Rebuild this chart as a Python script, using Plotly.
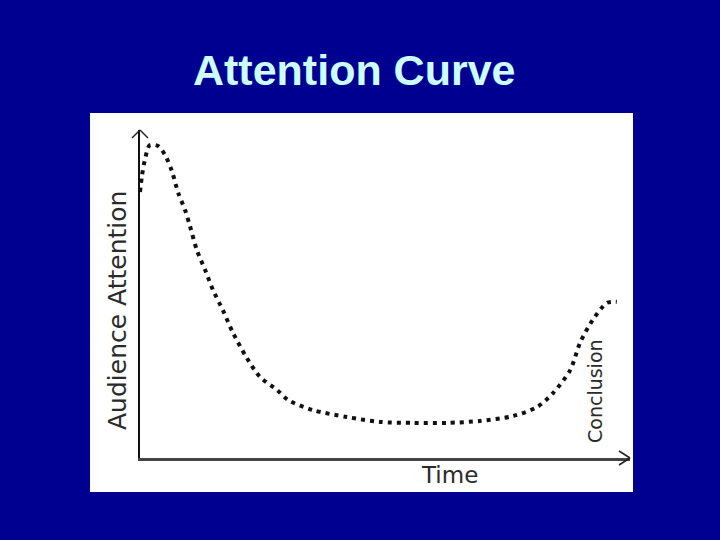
"""ATTENTION CURVE SLIDE"""
import plotly.graph_objects as go

# curve: time (0-100) vs audience attention (0-100)
time = [0, 0.4, 1.0, 2.0, 3.7, 5.1, 6.5, 7.8, 9.2, 10.2, 11.6, 13.3, 14.9, 16.9,
        19.0, 21.8, 24.5, 28.0, 30.2, 35.3, 42.2, 49.0, 55.7, 62.7, 69.4, 76.1,
        81.0, 84.3, 87.8, 89.8, 92.4, 95.3, 97.3]
attention = [81.1, 86.0, 90.9, 95.4, 95.1, 92.4, 87.5, 80.8, 75.6, 70.7, 63.4,
             57.3, 51.2, 45.1, 38.1, 30.5, 24.7, 20.7, 17.7, 14.6, 12.5, 11.0,
             10.7, 10.7, 11.3, 12.8, 15.5, 19.8, 26.8, 35.1, 42.1, 47.3, 47.6]

W, H = 720, 540
BG = "#000090"
INK = "#2a2a2a"


def px(x):
    return x / W


def py(y):
    return 1 - y / H


data = [
    go.Scatter(
        x=time,
        y=attention,
        mode="lines",
        line=dict(color="#111111", width=4, dash="4px,5px", shape="spline",
                  smoothing=0.8),
        hoverinfo="skip",
    )
]

arrow = dict(type="line", xref="paper", yref="paper",
             line=dict(color="#222222", width=1.5))
shapes = [
    # white panel
    dict(type="rect", xref="paper", yref="paper", x0=px(90), x1=px(633),
         y0=py(492), y1=py(113), fillcolor="white", line_width=0, layer="below"),
    # y-axis arrow head
    dict(arrow, x0=px(132), y0=py(138), x1=px(140), y1=py(130)),
    dict(arrow, x0=px(148), y0=py(138), x1=px(140), y1=py(130)),
    # x-axis arrow head
    dict(arrow, x0=px(619), y0=py(451), x1=px(630), y1=py(458)),
    dict(arrow, x0=px(619), y0=py(465), x1=px(630), y1=py(458)),
]

label = dict(xref="paper", yref="paper", showarrow=False,
             xanchor="center", yanchor="middle")
annotations = [
    dict(label, text="<b>Attention Curve</b>", x=px(354), y=py(70),
         font=dict(family="Liberation Sans", size=43, color="#CCFFFF")),
    dict(label, text="Audience Attention", x=px(117), y=py(311), textangle=-90,
         font=dict(family="DejaVu Sans", size=25, color=INK)),
    dict(label, text="Time", x=px(449), y=py(475),
         font=dict(family="DejaVu Sans", size=23, color=INK)),
    dict(label, text="Conclusion", x=px(595), y=py(391), textangle=-90,
         font=dict(family="DejaVu Sans", size=19, color=INK)),
]

layout = go.Layout(
    width=W,
    height=H,
    margin=dict(t=0, l=0, r=0, b=0),
    paper_bgcolor=BG,
    plot_bgcolor="white",
    showlegend=False,
    xaxis=dict(domain=[px(140), px(630)], range=[0, 100], showgrid=False,
               zeroline=False, showticklabels=False, ticks="",
               showline=True, linecolor="#444444", linewidth=2.5),
    yaxis=dict(domain=[py(458), py(130)], range=[0, 100], showgrid=False,
               zeroline=False, showticklabels=False, ticks="",
               showline=True, linecolor="#111111", linewidth=2),
    shapes=shapes,
    annotations=annotations,
)

fig = go.Figure(data, layout)
# drop the page's default body margin so the slide fills the window
fig.write_html("out.html", config={"displayModeBar": False},
               post_script="document.body.style.margin='0';")
